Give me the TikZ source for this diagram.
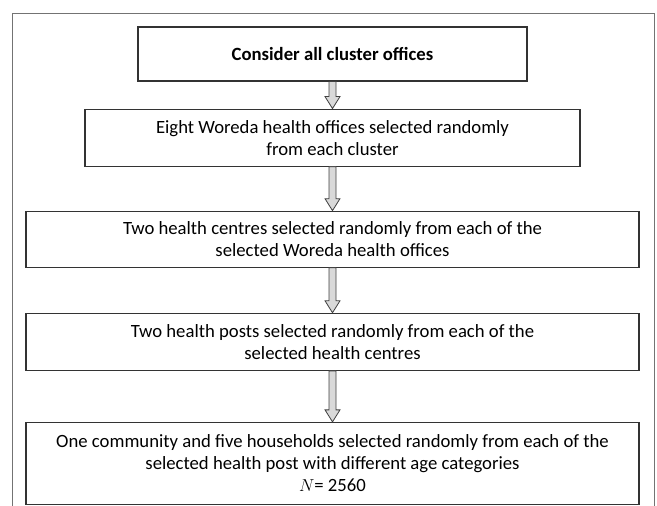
\documentclass[tikz,border=0pt]{standalone}
\usepackage{fontspec}
\setmainfont{Carlito}
\usetikzlibrary{positioning,calc}

% block arrow from the bottom of one box to the top of the next
\newcommand{\flowarrow}[2]{%
  \draw[blockarrow] ($(#1.south)+(-3.5,0)$) -- ($(#2.north)+(-3.5,12)$)
    -- ($(#2.north)+(-7.5,12)$) -- (#2.north) -- ($(#2.north)+(7.5,12)$)
    -- ($(#2.north)+(3.5,12)$) -- ($(#1.south)+(3.5,0)$) -- cycle;}

\begin{document}
\begin{tikzpicture}[x=1pt,y=1pt,
    box/.style={draw=black!80,line width=1.1pt,align=center,minimum height=57pt,inner sep=0pt},
    blockarrow/.style={draw=black!75,fill=black!15,line width=0.8pt,line join=miter}]
    \fontsize{18.7}{22}\selectfont
    \useasboundingbox (0,0) rectangle (657,-506);
    \draw[black!55,line width=0.9pt] (12,-506) -- (12,-13) -- (654,-13) -- (654,-506);
    \node[box,minimum width=389pt,minimum height=54pt] (s_1) at (332.5,-54) {\textbf{Consider all cluster offices}};
    \node[box,minimum width=495pt] (s_2) [below=27pt of s_1] {Eight Woreda health offices selected randomly\\from each cluster};
    \node[box,minimum width=613pt,minimum height=56pt] (s_3) [below=44pt of s_2] {Two health centres selected randomly from each of the\\selected Woreda health offices};
    \node[box,minimum width=613pt] (s_4) [below=45pt of s_3] {Two health posts selected randomly from each of the\\selected health centres};
    \node[box,minimum width=613pt,minimum height=82pt] (s_5) [below=51pt of s_4] {One community and five households selected randomly from each of the\\selected health post with different age categories\\$N$= 2560};
    \flowarrow{s_1}{s_2}
    \flowarrow{s_2}{s_3}
    \flowarrow{s_3}{s_4}
    \flowarrow{s_4}{s_5}
    ; %end arrows
\end{tikzpicture}
\end{document}
